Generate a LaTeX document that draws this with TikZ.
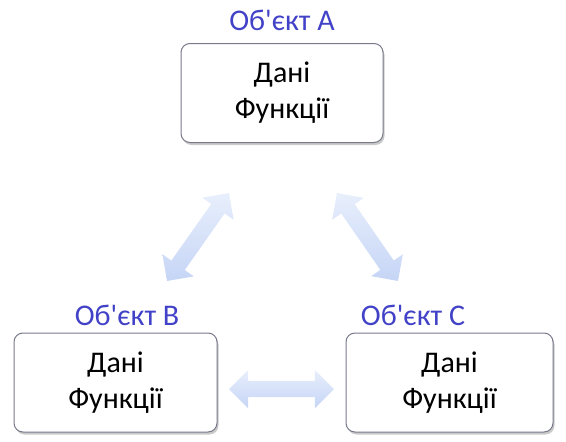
\documentclass[tikz,border=0pt]{standalone}
\usepackage{fontspec}
\newfontfamily\carl{Carlito}
\usetikzlibrary{shapes.arrows,shadows,calc}
\definecolor{labblue}{RGB}{66,66,200}
\definecolor{boxline}{RGB}{120,122,140}
\definecolor{arrblue}{RGB}{198,213,246}
\definecolor{arrlight}{RGB}{232,239,252}
\begin{document}
\begin{tikzpicture}[x=1pt,y=-1pt,
  objbox/.style={draw=boxline, line width=1pt, rounded corners=9pt, fill=white,
    drop shadow={shadow xshift=1.5pt, shadow yshift=-2.5pt, opacity=0.35, fill=black!60},
    minimum height=99pt, align=center, font=\carl\fontsize{30}{36}\selectfont},
  objlabel/.style={text=labblue, font=\carl\fontsize{30}{34}\selectfont},
  dbl/.style={double arrow, draw=none, inner xsep=0pt, inner ysep=8pt,
    text height=0pt, text depth=0pt, text width=0pt,
    double arrow head extend=11pt, double arrow head indent=0pt,
    shade, top color=arrlight, bottom color=arrblue}
]
\useasboundingbox (0,0) rectangle (566,442);
\node[objbox, minimum width=202pt] (A) at (282,93) {Дані\\Функції};
\node[objbox, minimum width=203pt] (B) at (115.5,382.5) {Дані\\Функції};
\node[objbox, minimum width=207pt] (C) at (449.5,382.5) {Дані\\Функції};
\node[objlabel] (LA) at (282,20) {Об'єкт А};
\node[objlabel] (LB) at (127,315) {Об'єкт В};
\node[objlabel] (LC) at (413,315) {Об'єкт С};
\coordinate (ab1) at (167,281);
\coordinate (ab2) at (229,193);
\coordinate (ac1) at (337,193);
\coordinate (ac2) at (398,281);
\coordinate (bc1) at (229,389);
\coordinate (bc2) at (334,389);
\foreach \ca/\cb/\nm in {ab1/ab2/AB, ac1/ac2/AC, bc1/bc2/BC}{
  \path let \p1=(\ca), \p2=(\cb), \n1={atan2(\y2-\y1,\x2-\x1)}, \n2={veclen(\x2-\x1,\y2-\y1)} in
    node[dbl, rotate=\n1, minimum height=\n2] (\nm) at ($(\ca)!.5!(\cb)$) {};
}
\end{tikzpicture}
\end{document}
